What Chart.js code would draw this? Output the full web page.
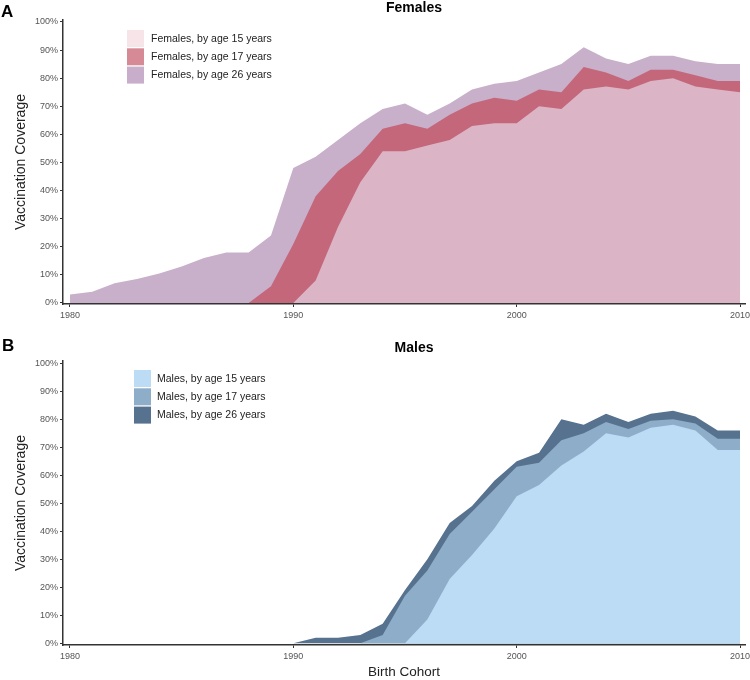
<!DOCTYPE html>
<html><head><meta charset="utf-8">
<script src="https://cdn.jsdelivr.net/npm/chart.js@4.4.0/dist/chart.umd.min.js"></script>
<style>
html,body{margin:0;padding:0;background:#fff;}
#wrap{position:relative;width:750px;height:680px;overflow:hidden;}
#cA{position:absolute;left:0;top:0;}
#cB{position:absolute;left:0;top:330px;}
</style></head><body>
<div id="wrap">
<canvas id="cA" width="750" height="330"></canvas>
<canvas id="cB" width="750" height="350"></canvas>
</div>
<script>
// ---- data ----
const years = [1980,1981,1982,1983,1984,1985,1986,1987,1988,1989,1990,1991,1992,1993,1994,1995,1996,1997,1998,1999,2000,2001,2002,2003,2004,2005,2006,2007,2008,2009,2010];
const xTickValues = [1980, 1990, 2000, 2010];
const yTickValues = [0,10,20,30,40,50,60,70,80,90,100];

const femalesLabels = ["Females, by age 15 years", "Females, by age 17 years", "Females, by age 26 years"];
const females15 = [null,null,null,null,null,null,null,null,null,null, 0,8,27,43,54,54,56,58,63,64,64,70,69,76,77,76,79,80,77,76,75];
const females17 = [null,null,null,null,null,null,null,null, 0,6,21,38,47,53,62,64,62,67,71,73,72,76,75,84,82,79,83,83,81,79,79];
const females26 = [3,4,7,8.5,10.5,13,16,18,18,24,48,52,58,64,69,71,67,71,76,78,79,82,85,91,87,85,88,88,86,85,85];

const malesLabels = ["Males, by age 15 years", "Males, by age 17 years", "Males, by age 26 years"];
const males15 = [null,null,null,null,null,null,null,null,null,null,null,null,null,null,null, 0,8.5,23,31.5,41,52.5,56.5,63.5,68.5,75,73.5,77,78,76,69,69];
const males17 = [null,null,null,null,null,null,null,null,null,null,null,null,null, 0,3,17,26,39,47,55,63,64.5,72.5,75,79,76.5,79.5,80,78.5,73,73];
const males26 = [null,null,null,null,null,null,null,null,null,null, 0,2,2,3,7,19,30,43,49,58,65,68,80,78,82,79,82,83,81,76,76];

// ---- styles ----
const FONT = '"Liberation Sans", Arial, Helvetica, sans-serif';
const femaleArea = ['#dbb5c6', '#c4677b', '#c8afca'];
const femaleSwatch = ['#f7e4e8', '#d68a95', '#c8aeca'];
const maleArea = ['#bcdcf5', '#8eadc9', '#56728f'];
const maleSwatch = ['#bcdcf5', '#8eadc9', '#56728f'];

function pts(arr){ return years.map((yr,i)=>({x:yr, y:arr[i]})); }

const deco = {
  id:'deco',
  afterDraw(chart, args, o){
    const ctx = chart.ctx;
    ctx.save();
    ctx.fillStyle = '#000';
    ctx.textBaseline = 'alphabetic';
    ctx.textAlign = 'left';
    ctx.font = 'bold 17px ' + FONT;
    ctx.fillText(o.letter, o.letterX, o.letterY);
    ctx.textAlign = 'center';
    ctx.font = 'bold 14px ' + FONT;
    ctx.fillText(o.title, o.titleX, o.titleY);
    chart.data.datasets.forEach((ds,i)=>{
      const y = o.legY + i*o.legStep;
      ctx.fillStyle = o.swatches[i];
      ctx.fillRect(o.legX, y, 17, 17);
      ctx.fillStyle = '#222';
      ctx.font = '10.5px ' + FONT;
      ctx.textAlign = 'left';
      ctx.textBaseline = 'middle';
      ctx.fillText(ds.label, o.textX, y + 9);
    });
    ctx.restore();
  }
};

function makeChart(id, labels, series, areaCols, swatches, deco_opts, geom){
  return new Chart(document.getElementById(id), {
    type:'line',
    data:{
      datasets: series.map((s,i)=>({
        label: labels[i],
        data: pts(s),
        backgroundColor: areaCols[i],
        borderColor: areaCols[i],
        borderWidth: 0,
        pointRadius: 0,
        fill: 'origin',
        tension: 0,
        spanGaps: false
      }))
    },
    options:{
      responsive:false,
      animation:false,
      events:[],
      layout:{padding:{top:geom.top, right:5, bottom:geom.bottom, left:0}},
      plugins:{
        legend:{display:false},
        tooltip:{enabled:false},
        title:{display:false},
        deco: deco_opts
      },
      scales:{
        x:{
          type:'linear',
          min:1979.69, max:2010.22,
          afterBuildTicks: s => { s.ticks = xTickValues.map(v=>({value:v})); },
          afterFit: s => { s.height = geom.xh; s.paddingRight = 0; s.paddingLeft = 0; },
          grid:{drawOnChartArea:false, drawTicks:true, tickLength:3, color:'#333', lineWidth:1},
          border:{display:true, color:'#333', width:1.5},
          ticks:{color:'#555', font:{family:FONT, size:9}, padding:3, maxRotation:0, autoSkip:false,
                 callback: v => String(v)},
          title:{display: geom.xTitle, text:'Birth Cohort', color:'#222', font:{family:FONT, size:13.5}, padding:{top:0,bottom:0}}
        },
        y:{
          min:geom.ymin, max:geom.ymax,
          afterBuildTicks: s => { s.ticks = yTickValues.map(v=>({value:v})); },
          afterFit: s => { s.width = 63; s.paddingTop = 0; s.paddingBottom = 0; },
          grid:{drawOnChartArea:false, drawTicks:true, tickLength:3, color:'#333', lineWidth:1},
          border:{display:true, color:'#333', width:1.5},
          ticks:{color:'#555', font:{family:FONT, size:9}, padding:2, autoSkip:false,
                 callback: v => v + '%'},
          title:{display:true, text:'Vaccination Coverage', color:'#222', font:{family:FONT, size:14}, padding:{top:13,bottom:0}}
        }
      }
    },
    plugins:[deco]
  });
}

makeChart('cA', femalesLabels, [females15, females17, females26], femaleArea, femaleSwatch,
  {letter:'A', letterX:1, letterY:17, title:'Females', titleX:414, titleY:12,
   legX:127, legY:30, legStep:18.3, textX:151, swatches:femaleSwatch},
  {top:20, bottom:6, xh:20, ymin:-0.36, ymax:100.7, xTitle:false});

makeChart('cB', malesLabels, [males15, males17, males26], maleArea, maleSwatch,
  {letter:'B', letterX:2, letterY:21, title:'Males', titleX:414, titleY:22,
   legX:134, legY:40, legStep:18.3, textX:157, swatches:maleSwatch},
  {top:31, bottom:0, xh:35, ymin:-0.6, ymax:100.8, xTitle:true});
</script>
</body></html>
